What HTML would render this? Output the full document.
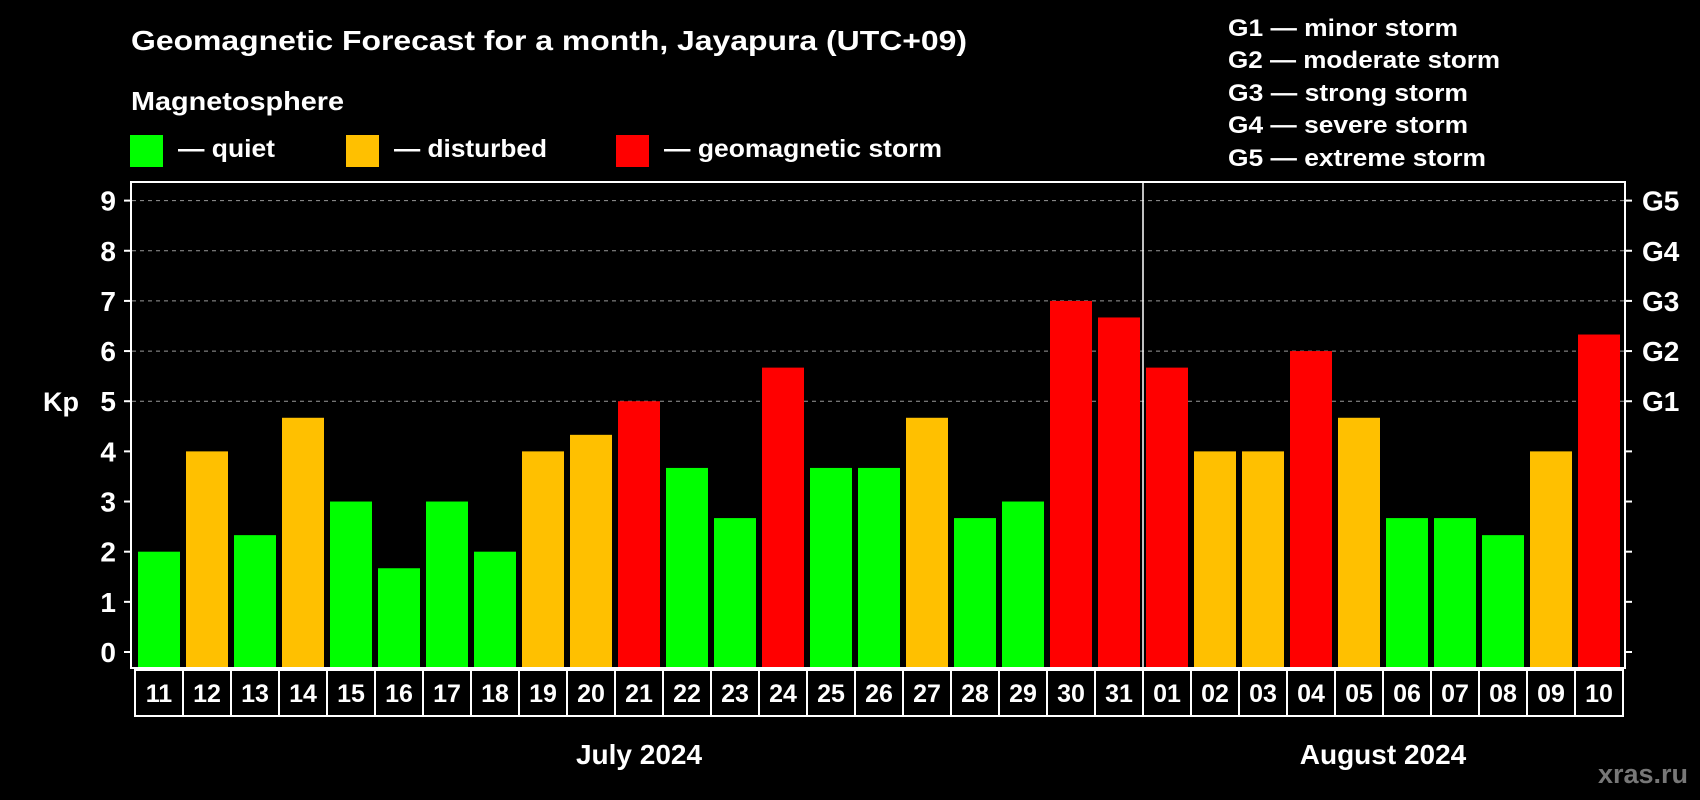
<!DOCTYPE html>
<html><head><meta charset="utf-8"><style>
html,body{margin:0;padding:0;background:#000;}
svg{display:block;font-family:"Liberation Sans",Arial,sans-serif;font-weight:bold;}
</style></head><body>
<svg id="chart" width="1700" height="800" viewBox="0 0 1700 800">
<rect width="1700" height="800" fill="#000"/>
<text x="131" y="50" font-size="28" fill="#fff" textLength="836" lengthAdjust="spacingAndGlyphs">Geomagnetic Forecast for a month, Jayapura (UTC+09)</text>
<text x="131" y="110" font-size="26" fill="#fff" textLength="213" lengthAdjust="spacingAndGlyphs">Magnetosphere</text>
<g>
<rect x="130" y="135" width="33" height="32" fill="#00ff00"/>
<text x="178" y="157" font-size="25" fill="#fff" textLength="97" lengthAdjust="spacingAndGlyphs">— quiet</text>
</g>
<g>
<rect x="346" y="135" width="33" height="32" fill="#ffc000"/>
<text x="394" y="157" font-size="25" fill="#fff" textLength="153" lengthAdjust="spacingAndGlyphs">— disturbed</text>
</g>
<g>
<rect x="616" y="135" width="33" height="32" fill="#ff0000"/>
<text x="664" y="157" font-size="25" fill="#fff" textLength="278" lengthAdjust="spacingAndGlyphs">— geomagnetic storm</text>
</g>
<g font-size="24" fill="#fff">
<text x="1228" y="36" textLength="230" lengthAdjust="spacingAndGlyphs">G1 — minor storm</text>
<text x="1228" y="68" textLength="272" lengthAdjust="spacingAndGlyphs">G2 — moderate storm</text>
<text x="1228" y="101" textLength="240" lengthAdjust="spacingAndGlyphs">G3 — strong storm</text>
<text x="1228" y="133" textLength="240" lengthAdjust="spacingAndGlyphs">G4 — severe storm</text>
<text x="1228" y="166" textLength="258" lengthAdjust="spacingAndGlyphs">G5 — extreme storm</text>
</g>
<text x="43" y="411" font-size="27" fill="#fff">Kp</text>
<g id="grid"></g>
<g id="bars"></g>
<rect x="131" y="182" width="1494" height="486" fill="none" stroke="#fff" stroke-width="2"/>
<line x1="1143" y1="182" x2="1143" y2="668" stroke="#fff" stroke-width="1.5"/>
<g id="axes"></g>
<g id="days"></g>
<text x="639" y="764" font-size="28" fill="#fff" text-anchor="middle">July 2024</text>
<text x="1383" y="764" font-size="28" fill="#fff" text-anchor="middle">August 2024</text>
<text x="1688" y="783" font-size="27" fill="#777" text-anchor="end">xras.ru</text>
</svg>
<script>
const days = ["11","12","13","14","15","16","17","18","19","20","21","22","23","24","25","26","27","28","29","30","31","01","02","03","04","05","06","07","08","09","10"];
const kpValues = [2,4,2.33,4.67,3,1.67,3,2,4,4.33,5,3.67,2.67,5.67,3.67,3.67,4.67,2.67,3,7,6.67,5.67,4,4,6,4.67,2.67,2.67,2.33,4,6.33];
const yTicks = [0,1,2,3,4,5,6,7,8,9];
const gLabels = ["G1","G2","G3","G4","G5"];
const gLevels = [5,6,7,8,9];

const NS = "http://www.w3.org/2000/svg";
const y0 = 652, unit = (652 - 200.6) / 9;
const barBottom = 667;
const yScale = v => y0 - v * unit;
const x0 = 138, step = 48, bw = 42;
const xScale = i => x0 + i * step;
function mk(tag, attrs, parent) {
  const e = document.createElementNS(NS, tag);
  for (const k in attrs) e.setAttribute(k, attrs[k]);
  parent.appendChild(e);
  return e;
}
const grid = document.getElementById('grid');
const axes = document.getElementById('axes');
const bars = document.getElementById('bars');
const dayG = document.getElementById('days');

yTicks.forEach(t => {
  const y = yScale(t);
  if (t >= 5) {
    const g = mk('line', {x1:132, x2:1624, y1:y, y2:y, stroke:'#999', 'stroke-width':1, 'stroke-dasharray':'4,4'}, grid);
    
    
  }
  const tl = mk('line', {x1:124, x2:131, y1:y, y2:y, stroke:'#fff', 'stroke-width':2}, axes);
  
  
  const tr = mk('line', {x1:1625, x2:1632, y1:y, y2:y, stroke:'#fff', 'stroke-width':2}, axes);
  
  
  const lb = mk('text', {x:116, y:y + 10, 'font-size':28, fill:'#fff', 'text-anchor':'end'}, axes);
  lb.textContent = t;
  
  
});
gLabels.forEach((g, i) => {
  const lb = mk('text', {x:1642, y:yScale(gLevels[i]) + 10, 'font-size':28, fill:'#fff'}, axes);
  lb.textContent = g;
  
  
});
kpValues.forEach((v, i) => {
  const color = v >= 5 ? '#ff0000' : (v >= 4 ? '#ffc000' : '#00ff00');
  const r = mk('rect', {x:xScale(i), y:yScale(v), width:bw, height:barBottom - yScale(v), fill:color}, bars);
  
  
});
days.forEach((d, i) => {
  const bx = xScale(i) - 3;
  const r = mk('rect', {x:bx, y:670, width:48, height:46, fill:'none', stroke:'#fff', 'stroke-width':2}, dayG);
  
  
  const t = mk('text', {x:bx + 24, y:702, 'font-size':25, fill:'#fff', 'text-anchor':'middle'}, dayG);
  t.textContent = d;
  
  
});
</script>
</body></html>
